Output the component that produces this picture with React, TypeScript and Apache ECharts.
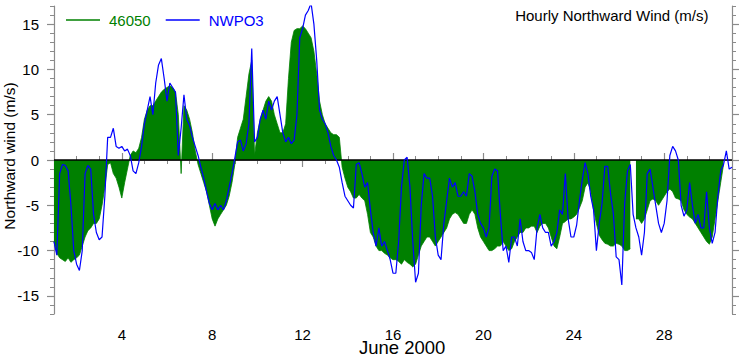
import React, { useEffect, useRef } from "react";
import * as echarts from "echarts";

// 3-hourly samples starting June 1, 00:00 (day 1.0) through day 31.0
const START_DAY = 1;
const STEP_DAYS = 0.125;

// NWPO3 northward wind (m/s), blue line
const nwpo3: number[] = [
  -9, -10.5, -1.5, -0.5, -0.6, -1.2, -5, -10,
  -11.5, -12.2, -10, -1.5, -0.6, -1, -6, -8,
  -8.8, -8.5, -4, 2.5, 2.5, 3.5, 1.5, 1.3,
  1.5, 1, 1.2, 0.5, -1.2, -1.5, -0.3, 1.5,
  4, 5.5, 7, 5, 8.5, 10.5, 11.2, 9,
  6.5, 8.5, 8, 7.5, 0.5, 3.5, 7.2, 4.5,
  3.8, 2.5, 1.5, 0.5, -0.8, -2, -3.5, -4.8,
  -5.5, -4.8, -5.5, -5, -5.5, -4.5, -3, -1.5,
  0.2, 2, 2.2, 1, 1.8, 4, 12.3, 2,
  2.5, 4.5, 5.5, 4.5, 6.5, 5.5, 6.5, 7,
  5, 3, 2, 2.5, 1.8, 2.2, 5, 13.5,
  14.5, 16, 16.5, 17.3, 15, 11, 5.5, 4.5,
  4, 3, 1.5, 0.5, 0, -0.8, -2.5, -4,
  -4.5, -5, -5.3, -0.5, -0.3, -1.5, -3, -2.5,
  -5.5, -8, -9.5, -7.5, -9.5, -9, -10, -11,
  -12.5, -12.5, -9, -3, 0, 0.3, -3, -9,
  -13.5, -12.5, -5, -1.5, -2, -2, -4, -8.5,
  -10.5, -11, -7, -4.5, -2, -3, -2.5, -4,
  -4, -3.5, -4, -1.5, -1.8, -3.5, -6, -7,
  -7.5, -8.5, -7.5, -1.8, -1, -1.2, -6, -10,
  -9.5, -11.3, -8.5, -8.5, -9.5, -6.5, -9, -10,
  -10, -10.2, -11, -7.5, -6, -7.5, -8, -8,
  -9.5, -9, -8, -5.5, -6, -1.5, -6.5, -8.5,
  -8.5, -7.2, -4.5, -2.2, -0.3, -1.5, -4, -5.5,
  -10, -7, -4.8, -0.7, -0.7, -3.7, -5.9, -10.7,
  -11, -13.8, -4.8, -1.2, -0.5, -6, -7.5, -8.5,
  -10.5, -8, -1.5, -1, -3, -5, -7, -8,
  -7, -4.5, 0.5, 1.5, 1, 0, -5, -6.2,
  -5.5, -2.5, -5, -7, -6, -7.5, -7.5, -3.5,
  -7.5, -9.2, -8, -4, -1.2, -0.5, 1, -1,
  -0.8,
];

// Buoy 46050 northward wind (m/s), green filled area (null = missing)
const buoy46050: (number | null)[] = [
  -9, -10.3, -10.8, -11, -11.2, -10.8, -11.3, -11,
  -10.8, -10.5, -9.5, -8.5, -7.8, -7.5, -7, -7,
  -6.5, -5, -3, -0.5, -0.3, -1.5, -2, -3,
  -4.2, -2.5, -1, 0.5, 1, 0.8, 1.3, 2.5,
  4.5, 5.5, 6, 6, 6.5, 7, 7.5, 7.8,
  8, 8.2, 8, 7.5, 5, -1.5, 6, 5.5,
  4.5, 3, 1, -0.5, -1.5, -2.5, -3.5, -5,
  -6.5, -7.3, -6.5, -6, -5.5, -5, -4, -2.5,
  -0.5, 2.5, 3.5, 4.5, 7, 9.5, 11, 0.5,
  3, 4.5, 5.5, 6.5, 7, 6.5, 5, 4,
  3, 3, 4, 9, 13, 14.3, 14.5, 14.5,
  14.8, 14.5, 14, 13.5, 12, 9.5, 6.5, 5,
  4, 3.5, 3, 2.8, 2.8, 2.5, -0.8, -2,
  -3, -3.5, -4.2, -4.2, -3.8, -4.2, -4.5, -6,
  -8, -8.5, -9.5, -10, -10, -10.3, -10.5, -10.8,
  -11, -11, -11.2, -11.5, -11, -11.3, -11.5, -11.8,
  -11.5, -10.5, -9.5, -9, -8.5, -8.5, -9, -9.5,
  -9, -8.5, -8, -7.5, -6.5, -6, -5.8, -6,
  -6.5, -7, -7, -6, -5.5, -6, -7.5, -8.5,
  -9, -9.5, -10, -10, -9.8, -9.5, -9.5, -9,
  -9.5, -10, -9.8, -9, -8.5, -8, -8, -7.5,
  -7.5, -7.3, -7.3, -8, -7.3, -7, -7, -7.5,
  -8.5, -9.5, -9.8, -8.5, -7, -6.8, -6.5, -6.5,
  -6.3, -6, -5.3, -4.5, -3, -2.5, -3.5, -5.5,
  -7, -8.3, -8.8, -9.2, -9.3, -9.5, -9.5, -9.2,
  -9.3, -9.5, -10, -10, -9.8, null, -6.5, -6.5,
  -7, -6.5, -5.5, -4.5, -4.3, -4.5, -5, -4.5,
  -4, -3.5, -3.2, -3.5, -4.2, -4.3, -4.5, -5.5,
  -6, -6.3, -6.5, -7, -7.5, -8, -8.5, -9,
  -9.3, -8.5, -6.5, -4.5, -2.5, -0.5, null, null,
  null,
];

const seriesNames = ["46050", "NWPO3"];
const xMajorTicks = [4, 8, 12, 16, 20, 24, 28];
const yMajorTicks = [-15, -10, -5, 0, 5, 10, 15];
const X_MIN = 1;
const X_MAX = 31;
const Y_MIN = -17;
const Y_MAX = 17;
const titleText = "Hourly Northward Wind (m/s)";
const xTitle = "June 2000";
const yTitle = "Northward wind (m/s)";

const FONT = "Liberation Sans, Arial, Helvetica, sans-serif";
const AXIS_GRAY = "#8a8a8a";
const GREEN = "#008000";
const BLUE = "#0000ff";

function toPairs(values: (number | null)[]) {
  return values.map((v, i) => [START_DAY + i * STEP_DAYS, v === null ? "-" : v]);
}

export default function App() {
  const ref = useRef<HTMLDivElement>(null);

  useEffect(() => {
    if (!ref.current) return;
    const chart = echarts.init(ref.current, null, { renderer: "svg" });

    const baseX = (position: "bottom" | "top", major: boolean) => ({
      type: "value",
      position,
      min: X_MIN,
      max: X_MAX,
      interval: 1,
      axisLine: { show: !major, lineStyle: { color: AXIS_GRAY, width: 1.2 } },
      axisTick: major
        ? { show: true, inside: false, length: 7, customValues: xMajorTicks, lineStyle: { color: AXIS_GRAY, width: 1.2 } }
        : { show: true, inside: false, length: 4, lineStyle: { color: AXIS_GRAY, width: 1 } },
      axisLabel:
        major && position === "bottom"
          ? { show: true, customValues: xMajorTicks, fontSize: 15, color: "#000", fontFamily: FONT, margin: 13 }
          : { show: false },
      splitLine: { show: false },
    });

    const baseY = (position: "left" | "right", major: boolean) => ({
      type: "value",
      position,
      min: Y_MIN,
      max: Y_MAX,
      interval: 1,
      axisLine: { show: !major, lineStyle: { color: AXIS_GRAY, width: 1.2 } },
      axisTick: major
        ? { show: true, inside: false, length: 7, customValues: yMajorTicks, lineStyle: { color: AXIS_GRAY, width: 1.2 } }
        : { show: true, inside: false, length: 4, lineStyle: { color: AXIS_GRAY, width: 1 } },
      axisLabel:
        major && position === "left"
          ? { show: true, customValues: yMajorTicks, fontSize: 15, color: "#000", fontFamily: FONT, margin: 15 }
          : { show: false },
      splitLine: { show: false },
    });

    chart.setOption({
      animation: false,
      backgroundColor: "#ffffff",
      grid: { left: 54, right: 7, top: 6, bottom: 41, containLabel: false },
      title: {
        text: titleText,
        right: 30.5,
        top: 8,
        padding: 0,
        textStyle: { fontSize: 15, fontWeight: "normal", color: "#000", fontFamily: FONT },
      },
      legend: {
        left: 66,
        top: 12.5,
        padding: 0,
        icon: "rect",
        itemWidth: 34,
        itemHeight: 1.5,
        itemGap: 15,
        textStyle: { fontSize: 15, fontFamily: FONT, padding: [0, 0, 0, 4] },
        data: [
          { name: seriesNames[0], textStyle: { color: GREEN } },
          { name: seriesNames[1], textStyle: { color: BLUE } },
        ],
      },
      xAxis: [baseX("bottom", false), baseX("bottom", true), baseX("top", false), baseX("top", true)],
      yAxis: [baseY("left", false), baseY("left", true), baseY("right", false), baseY("right", true)],
      series: [
        {
          name: seriesNames[0],
          type: "line",
          xAxisIndex: 0,
          yAxisIndex: 0,
          data: toPairs(buoy46050),
          showSymbol: false,
          symbol: "none",
          connectNulls: false,
          itemStyle: { color: GREEN },
          lineStyle: { color: GREEN, width: 0.8 },
          areaStyle: { color: GREEN, opacity: 1, origin: 0 },
          z: 2,
          markLine: {
            silent: true,
            symbol: "none",
            label: { show: false },
            lineStyle: { color: "#000", width: 1.5, type: "solid" },
            data: [{ yAxis: 0 }],
            z: 3,
          },
        },
        {
          name: seriesNames[1],
          type: "line",
          xAxisIndex: 0,
          yAxisIndex: 0,
          data: toPairs(nwpo3),
          showSymbol: false,
          symbol: "none",
          itemStyle: { color: BLUE },
          lineStyle: { color: BLUE, width: 1.2 },
          z: 4,
        },
      ],
      graphic: [
        {
          type: "text",
          left: 359,
          top: 337.5,
          style: { text: xTitle, fontSize: 18.5, fontFamily: FONT, fill: "#000" },
        },
        {
          type: "text",
          x: 9,
          y: 156,
          rotation: Math.PI / 2,
          style: {
            text: yTitle,
            fontSize: 15.5,
            fontFamily: FONT,
            fill: "#000",
            align: "center",
            verticalAlign: "middle",
          },
        },
      ],
    });

    return () => chart.dispose();
  }, []);

  return (
    <div
      ref={ref}
      style={{ position: "absolute", left: 0, top: 0, width: 739, height: 355, background: "#fff" }}
    />
  );
}
